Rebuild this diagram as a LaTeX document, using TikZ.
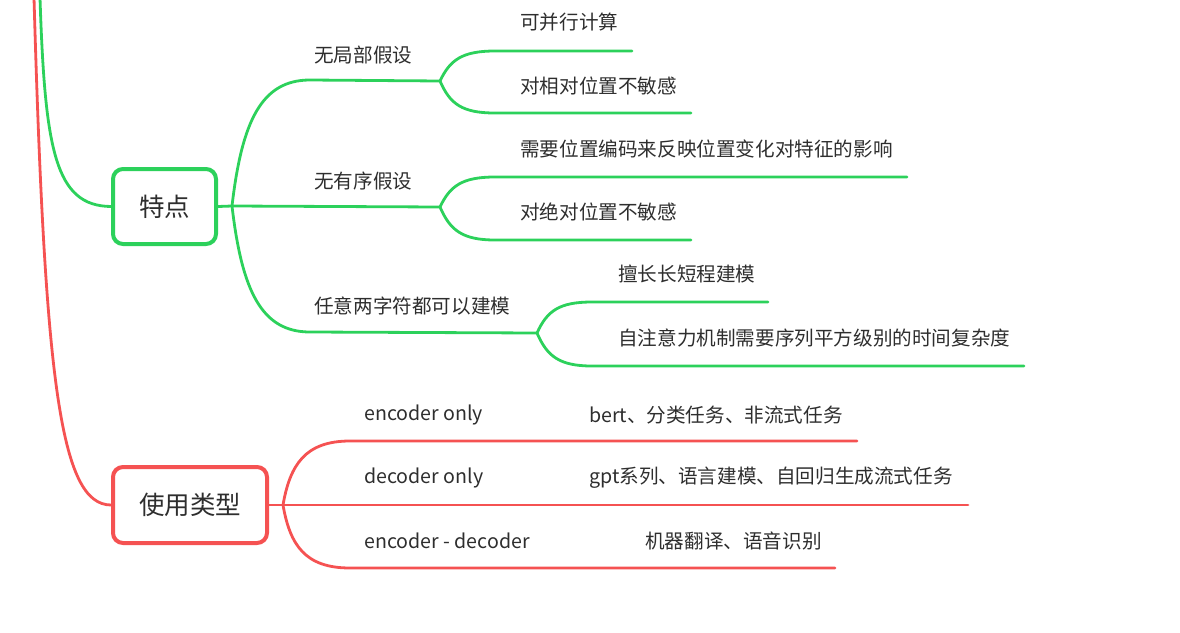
\documentclass[tikz,border=0pt]{standalone}
\usepackage{fontspec}
\setmainfont{Noto Sans CJK SC}
\definecolor{mgreen}{HTML}{2CD15B}
\definecolor{mred}{HTML}{F55252}
\definecolor{tgray}{HTML}{2E2E2E}
\begin{document}
\begin{tikzpicture}[x=1pt,y=-1pt,
  gline/.style={draw=mgreen,line width=2.8pt,line cap=round},
  rline/.style={draw=mred,line width=2.8pt,line cap=round},
  rootbox/.style={draw,line width=4pt,rounded corners=10pt,fill=white,text=tgray,
    font=\fontsize{25.5}{27}\selectfont,inner sep=0pt},
  lbl/.style={anchor=west,inner sep=0pt,text=tgray,font=\fontsize{19.6}{21}\selectfont}]
\useasboundingbox (0,0) rectangle (1180,632);
% root boxes
\node[rootbox,draw=mgreen,minimum width=103pt,minimum height=75pt] (td) at (164.5,206.5) {特点};
\node[rootbox,draw=mred,minimum width=154pt,minimum height=76pt] (sy) at (190,505) {使用类型};
% top incoming curves
\coordinate (gtop) at (40,-2);
\coordinate (rtop) at (34,-2);
\draw[rline] (rtop) .. controls (45,380) and (60,505) .. (sy.west);
\draw[gline] (gtop) .. controls (45,150) and (55,206) .. (td.west);
% green branches
\coordinate (tdf) at (232,206);
\draw[gline] (td.east) -- (tdf);
\coordinate (b1s) at (310,80);  \coordinate (b1e) at (440,81);
\coordinate (b2e) at (440,207);
\coordinate (b3s) at (310,332); \coordinate (b3e) at (537,333);
\draw[gline] (tdf) .. controls (242,120) and (262,80) .. (b1s) -- (b1e);
\draw[gline] (tdf) -- (b2e);
\draw[gline] (tdf) .. controls (242,292) and (262,332) .. (b3s) -- (b3e);
\node[lbl] (b1) at (314,55) {无局部假设};
\node[lbl] (b2) at (314,181) {无有序假设};
\node[lbl] (b3) at (314,306) {任意两字符都可以建模};
% sub-branches of b1
\coordinate (c11s) at (495,51);  \coordinate (c11e) at (632,51);
\coordinate (c12s) at (495,113); \coordinate (c12e) at (691,113);
\draw[gline] (b1e) .. controls (450,60) and (462,51) .. (c11s) -- (c11e);
\draw[gline] (b1e) .. controls (450,104) and (462,113) .. (c12s) -- (c12e);
\node[lbl] (c11) at (520,22) {可并行计算};
\node[lbl] (c12) at (520,86) {对相对位置不敏感};
% sub-branches of b2
\coordinate (c21s) at (495,177); \coordinate (c21e) at (907,177);
\coordinate (c22s) at (495,240); \coordinate (c22e) at (691,240);
\draw[gline] (b2e) .. controls (450,186) and (462,177) .. (c21s) -- (c21e);
\draw[gline] (b2e) .. controls (450,230) and (462,240) .. (c22s) -- (c22e);
\node[lbl] (c21) at (520,149) {需要位置编码来反映位置变化对特征的影响};
\node[lbl] (c22) at (520,212) {对绝对位置不敏感};
% sub-branches of b3
\coordinate (c31s) at (592,302); \coordinate (c31e) at (768,302);
\coordinate (c32s) at (592,366); \coordinate (c32e) at (1024,366);
\draw[gline] (b3e) .. controls (547,311) and (559,302) .. (c31s) -- (c31e);
\draw[gline] (b3e) .. controls (547,356) and (559,366) .. (c32s) -- (c32e);
\node[lbl] (c31) at (618,274) {擅长长短程建模};
\node[lbl] (c32) at (618,338) {自注意力机制需要序列平方级别的时间复杂度};
% red branches
\coordinate (syf) at (283,505);
\draw[rline] (sy.east) -- (syf);
\coordinate (r1s) at (350,441); \coordinate (r1m) at (493,441); \coordinate (r1e) at (857,441);
\coordinate (r2m) at (493,505); \coordinate (r2e) at (968,505);
\coordinate (r3s) at (350,568); \coordinate (r3m) at (493,568); \coordinate (r3e) at (835,568);
\draw[rline] (syf) .. controls (290,465) and (305,441) .. (r1s) -- (r1m) -- (r1e);
\draw[rline] (syf) -- (r2m) -- (r2e);
\draw[rline] (syf) .. controls (290,545) and (305,568) .. (r3s) -- (r3m) -- (r3e);
\node[lbl] (e1) at (364,415) {encoder only};
\node[lbl] (e2) at (364,478) {decoder only};
\node[lbl] (e3) at (364,541) {encoder - decoder};
\node[lbl] (f1) at (589,415) {bert、分类任务、非流式任务};
\node[lbl] (f2) at (589,478) {gpt系列、语言建模、自回归生成流式任务};
\node[lbl] (f3) at (645,541) {机器翻译、语音识别};
\end{tikzpicture}
\end{document}
